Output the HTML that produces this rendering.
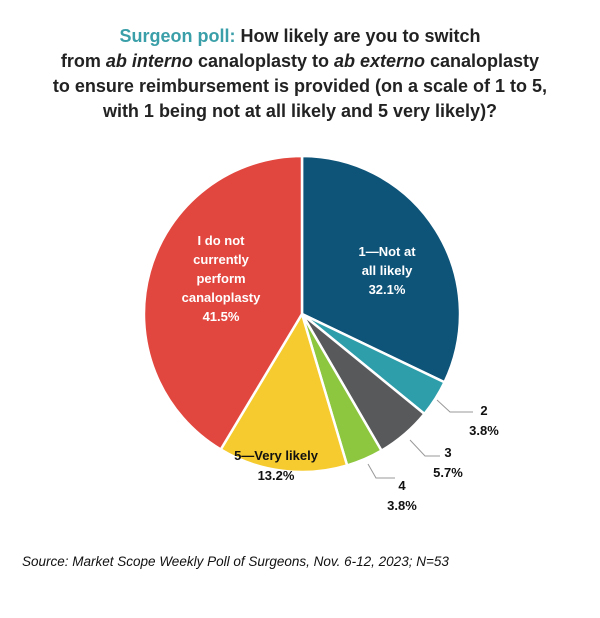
<!DOCTYPE html>
<html><head><meta charset="utf-8"><style>
body{margin:0;background:#fff;width:600px;height:618px;overflow:hidden;font-family:"Liberation Sans",sans-serif}
.t{position:absolute;left:0;width:600px;top:24px;text-align:center;font-weight:bold;font-size:18px;line-height:25px;color:#222}
.s{position:absolute;left:22px;top:554px;font-style:italic;font-size:13.5px;color:#111}
</style></head><body>
<div class="t"><span style="color:#3a9fa8">Surgeon poll:</span> How likely are you to switch<br>from <i>ab interno</i> canaloplasty to <i>ab externo</i> canaloplasty<br>to ensure reimbursement is provided (on a scale of 1 to 5,<br>with 1 being not at all likely and 5 very likely)?</div>
<svg width="600" height="618" style="position:absolute;left:0;top:0">
<g stroke="#fff" stroke-width="2.5" stroke-linejoin="round">
<path d="M302,314 L302,156 A158,158 0 0 1 444.5,382.3 Z" fill="#0e5479"/>
<path d="M302,314 L444.5,382.3 A158,158 0 0 1 424.4,413.9 Z" fill="#2e9eaa"/>
<path d="M302,314 L424.4,413.9 A158,158 0 0 1 381.5,450.6 Z" fill="#58595b"/>
<path d="M302,314 L381.5,450.6 A158,158 0 0 1 347.1,465.4 Z" fill="#8dc63f"/>
<path d="M302,314 L347.1,465.4 A158,158 0 0 1 220.7,449.5 Z" fill="#f5cb2f"/>
<path d="M302,314 L220.7,449.5 A158,158 0 0 1 302,156 Z" fill="#e2473f"/>
</g>
<g stroke="#999" stroke-width="1" fill="none">
<polyline points="437,400 450,412 473,412"/>
<polyline points="410,440 425,456 440,456"/>
<polyline points="368,464 376,478 395,478"/>
</g>
<g font-family="Liberation Sans,sans-serif" font-weight="bold" font-size="13" text-anchor="middle">
<g fill="#fff">
<text x="221" y="245">I do not</text><text x="221" y="264">currently</text><text x="221" y="283">perform</text><text x="221" y="302">canaloplasty</text><text x="221" y="321">41.5%</text>
<text x="387" y="256">1—Not at</text><text x="387" y="275">all likely</text><text x="387" y="294">32.1%</text>
</g>
<g fill="#111">
<text x="276" y="460">5—Very likely</text><text x="276" y="480">13.2%</text>
<text x="484" y="415">2</text><text x="484" y="435">3.8%</text>
<text x="448" y="457">3</text><text x="448" y="477">5.7%</text>
<text x="402" y="490">4</text><text x="402" y="510">3.8%</text>
</g></g>
</svg>
<div class="s">Source: Market Scope Weekly Poll of Surgeons, Nov. 6-12, 2023; N=53</div>
</body></html>
